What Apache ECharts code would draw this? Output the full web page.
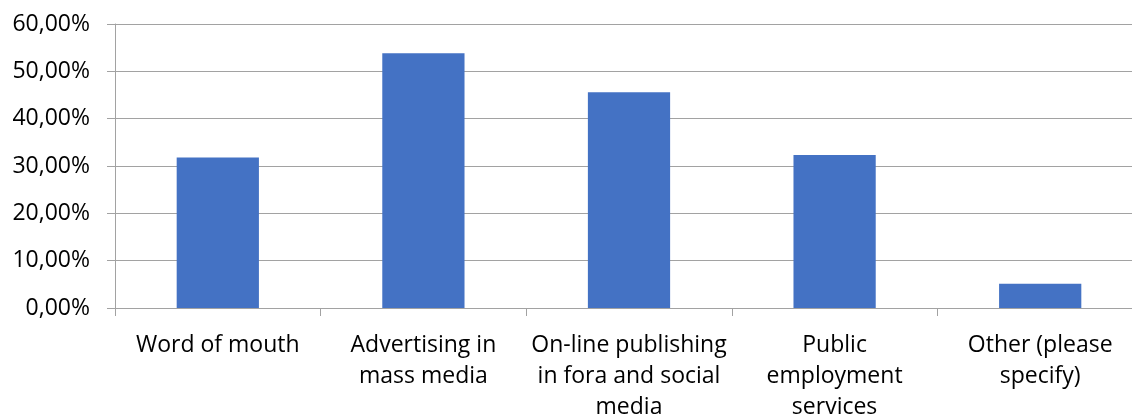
<!DOCTYPE html>
<html>
<head>
<meta charset="utf-8">
<title>Channels</title>
<script src="https://cdn.jsdelivr.net/npm/echarts@6/dist/echarts.min.js"></script>
<style>
  html, body { margin: 0; padding: 0; background: #ffffff; }
  #chart { width: 1132px; height: 416px; }
</style>
</head>
<body>
<div id="chart"></div>
<script>
// Channel categories (line breaks as laid out under the axis)
const categories = [
  'Word of mouth',
  'Advertising in\nmass media',
  'On-line publishing\nin fora and social\nmedia',
  'Public\nemployment\nservices',
  'Other (please\nspecify)'
];

// Share of respondents per channel, in percent
const shares = [31.8, 53.8, 45.6, 32.3, 5.1];

// Value axis range and step, in percent
const yMin = 0;
const yMax = 60;
const yStep = 10;

const fontFamily = '"Open Sans", "Noto Sans", sans-serif';
const axisGray = '#a2a2a2';
const textColor = '#000000';

const chart = echarts.init(document.getElementById('chart'), null, { renderer: 'canvas' });

chart.setOption({
  animation: false,
  backgroundColor: '#ffffff',
  // plot area runs slightly past the right edge of the canvas
  grid: {
    left: 115,
    top: 24,
    width: 1028,
    height: 284,
    containLabel: false,
    outerBoundsMode: 'none'
  },
  xAxis: {
    type: 'category',
    data: categories,
    boundaryGap: true,
    axisLine: { show: true, lineStyle: { color: axisGray, width: 1 } },
    axisTick: { show: true, length: 8, alignWithLabel: false, lineStyle: { color: axisGray, width: 1 } },
    axisLabel: {
      interval: 0,
      margin: 22,
      color: textColor,
      fontFamily: fontFamily,
      fontSize: 23,
      lineHeight: 31,
      align: 'center'
    }
  },
  yAxis: {
    type: 'value',
    min: yMin,
    max: yMax,
    interval: yStep,
    axisLine: { show: true, lineStyle: { color: axisGray, width: 1 } },
    axisTick: { show: true, length: 8, lineStyle: { color: axisGray, width: 1 } },
    splitLine: { show: true, lineStyle: { color: axisGray, width: 1 } },
    axisLabel: {
      margin: 25,
      color: textColor,
      fontFamily: fontFamily,
      fontSize: 23,
      formatter: function (v) {
        return v.toFixed(2).replace('.', ',') + '%';
      }
    }
  },
  series: [{
    type: 'bar',
    data: shares,
    barCategoryGap: '60%',
    itemStyle: { color: '#4472c4' }
  }]
});
</script>
</body>
</html>
